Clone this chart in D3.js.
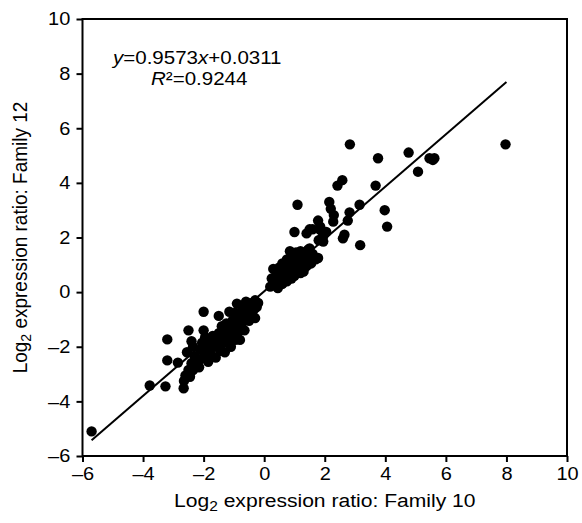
<!DOCTYPE html>
<html>
<head>
<meta charset="utf-8">
<script src="https://cdn.jsdelivr.net/npm/d3@7"></script>
<style>
  body { margin: 0; background: #fff; }
  text { font-family: "Liberation Sans", Arial, sans-serif; fill: #000; }
</style>
</head>
<body>
<svg></svg>
<script>
// Data (Family 10, Family 12) log2 ratios
const farPoints = [
  [-5.7, -5.1], [-3.78, -3.42], [-3.26, -3.45], [-2.66, -3.52], [-3.2, -2.5],
  [-3.2, -1.73], [-2.85, -2.58]
];
const lowCluster = [
  [-2.65, -3.25], [-2.6, -3.05], [-2.5, -2.85], [-2.45, -3.1], [-2.4, -2.6], [-2.35, -2.85],
  [-2.55, -2.2], [-2.5, -1.4], [-2.4, -1.8], [-2.35, -2.0], [-2.3, -2.35], [-2.25, -2.6],
  [-2.15, -2.75], [-2.1, -2.45], [-2.1, -2.1], [-2.05, -1.85], [-2.0, -1.4], [-2.0, -0.72],
  [-1.95, -1.65], [-1.95, -2.3], [-1.85, -2.55], [-1.85, -2.05], [-1.8, -1.8], [-1.75, -2.3],
  [-1.7, -1.6], [-1.65, -2.0], [-1.6, -2.4], [-1.55, -1.8], [-1.5, -0.87], [-1.5, -1.5],
  [-1.45, -2.15], [-1.4, -1.25], [-1.4, -1.9], [-1.35, -1.6], [-1.3, -2.2], [-1.25, -1.15],
  [-1.2, -1.8], [-1.2, -1.45], [-1.15, -0.72], [-1.1, -2.0], [-1.1, -1.6], [-1.05, -1.05],
  [-1.0, -1.35], [-0.95, -0.75], [-0.95, -1.75], [-0.9, -0.42], [-0.9, -1.1], [-0.85, -1.45],
  [-0.8, -1.75], [-0.8, -0.85], [-0.75, -1.2], [-0.7, -0.6], [-0.65, -1.0], [-0.65, -1.4],
  [-0.6, -0.35], [-0.55, -0.75], [-0.5, -1.05], [-0.5, -0.5], [-0.45, -0.85], [-0.4, -0.4],
  [-0.35, -0.65], [-0.3, -0.3], [-0.3, -0.95], [-0.25, -0.55], [-0.2, -0.4]
];
const midCluster = [
  [0.2, 0.2], [0.25, 0.5], [0.3, 0.85], [0.35, 0.3], [0.4, 0.6], [0.45, 0.15], [0.45, 0.35],
  [0.5, 0.45], [0.5, 0.9], [0.55, 0.7], [0.6, 1.05], [0.6, 0.3], [0.65, 0.55], [0.7, 0.85],
  [0.75, 1.2], [0.75, 0.4], [0.8, 0.65], [0.85, 1.0], [0.85, 1.5], [0.9, 0.5], [0.9, 1.35],
  [0.95, 0.8], [1.0, 1.1], [1.0, 0.6], [1.05, 1.45], [1.1, 0.9], [1.15, 1.25], [1.2, 0.7],
  [1.2, 1.5], [1.25, 1.05], [1.3, 1.4], [1.3, 0.75], [1.35, 1.15], [1.4, 0.95], [1.45, 1.55],
  [1.5, 1.25], [1.55, 1.05], [1.6, 1.4], [1.7, 1.2], [1.78, 1.25]
];
const highPoints = [
  [1.0, 2.2], [1.4, 2.15], [1.5, 2.3], [1.6, 2.3], [1.85, 2.28], [1.9, 1.97], [1.95, 1.85],
  [2.05, 2.2], [1.78, 2.62], [1.85, 2.4], [1.95, 2.05], [1.8, 1.9], [1.5, 1.6], [1.1, 3.2],
  [2.15, 3.3], [2.2, 3.05], [2.3, 2.82], [2.28, 2.58], [2.82, 2.92], [2.76, 2.62], [2.65, 2.1],
  [2.6, 1.97], [3.15, 3.2], [3.98, 3.0], [4.06, 2.4], [3.17, 1.72], [2.58, 4.1], [2.42, 3.9],
  [3.68, 3.9], [2.83, 5.41], [3.76, 4.9], [4.77, 5.11], [5.46, 4.9], [5.57, 4.84], [5.62, 4.9],
  [5.08, 4.41], [7.97, 5.41]
];
const xTicks = [-6, -4, -2, 0, 2, 4, 6, 8, 10];
const yTicks = [-6, -4, -2, 0, 2, 4, 6, 8, 10];
const slope = 0.9573;
const intercept = 0.0311;
const rSquared = 0.9244;
const fitRange = [-5.7, 8.0];

let width = 582;
let height = 523;
let padLeft = 82.5, padRight = 567, padTop = 19, padBottom = 456;
let stretch = 1.11; // the source figure is a bit wider than tall

const svg = d3.select('svg').attr('width', width).attr('height', height);

const xScale = d3.scaleLinear().domain([-6, 10]).range([padLeft, padRight]);
const yScale = d3.scaleLinear().domain([-6, 10]).range([padBottom, padTop]);

const minus = (d) => (d < 0 ? '\u2013' + Math.abs(d) : '' + d);

// axes
const xAxis = d3.axisBottom(xScale).tickValues(xTicks).tickFormat(minus).tickSizeInner(6).tickSizeOuter(0).tickPadding(5);
const yAxis = d3.axisLeft(yScale).tickValues(yTicks).tickFormat(minus).tickSizeInner(6).tickSizeOuter(0).tickPadding(5);

svg.append('g').attr('transform', 'translate(0,' + padBottom + ')').call(xAxis)
  .call(g => g.select('.domain').remove());
svg.append('g').attr('transform', 'translate(' + padLeft + ',0)').call(yAxis)
  .call(g => g.select('.domain').remove());

svg.selectAll('.tick line').attr('stroke', '#000').attr('stroke-width', 2);
svg.selectAll('.tick text')
  .attr('font-size', 18)
  .attr('font-family', '"Liberation Sans", Arial, sans-serif')
  .attr('fill', '#000')
  .attr('transform', 'scale(' + stretch + ',1)');

// frame
svg.append('rect')
  .attr('x', padLeft).attr('y', padTop)
  .attr('width', padRight - padLeft).attr('height', padBottom - padTop)
  .attr('fill', 'none').attr('stroke', '#000').attr('stroke-width', 2);

// points
const allPoints = farPoints.concat(lowCluster, midCluster, highPoints);
svg.append('g').selectAll('circle').data(allPoints).enter().append('circle')
  .attr('cx', d => xScale(d[0]))
  .attr('cy', d => yScale(d[1]))
  .attr('r', 5.2)
  .attr('fill', '#000');

// regression line
svg.append('line')
  .attr('x1', xScale(fitRange[0])).attr('y1', yScale(slope * fitRange[0] + intercept))
  .attr('x2', xScale(fitRange[1])).attr('y2', yScale(slope * fitRange[1] + intercept))
  .attr('stroke', '#000').attr('stroke-width', 2);

// equation
const eq = svg.append('text')
  .attr('transform', 'translate(113,64) scale(' + stretch + ',1)').attr('font-size', 18.5);
eq.append('tspan').attr('font-style', 'italic').text('y');
eq.append('tspan').text('=' + slope + '');
eq.append('tspan').attr('font-style', 'italic').text('x');
eq.append('tspan').text('+' + intercept);

const r2 = svg.append('text')
  .attr('transform', 'translate(151,85) scale(' + stretch + ',1)').attr('font-size', 18.5);
r2.append('tspan').attr('font-style', 'italic').text('R');
r2.append('tspan').text('\u00B2=' + rSquared);

// axis labels
const xLabel = svg.append('text')
  .attr('transform', 'translate(' + (padLeft + padRight) / 2 + ',507) scale(' + stretch + ',1)')
  .attr('text-anchor', 'middle').attr('font-size', 19);
xLabel.append('tspan').text('Log');
xLabel.append('tspan').attr('font-size', 14).attr('dy', 4).text('2');
xLabel.append('tspan').attr('dy', -4).text(' expression ratio: Family 10');

const yLabel = svg.append('text')
  .attr('transform', 'translate(27,' + (padTop + padBottom) / 2 + ') rotate(-90) scale(1,' + stretch + ')')
  .attr('text-anchor', 'middle').attr('font-size', 19);
yLabel.append('tspan').text('Log');
yLabel.append('tspan').attr('font-size', 14).attr('dy', 4).text('2');
yLabel.append('tspan').attr('dy', -4).text(' expression ratio: Family 12');
</script>
</body>
</html>
